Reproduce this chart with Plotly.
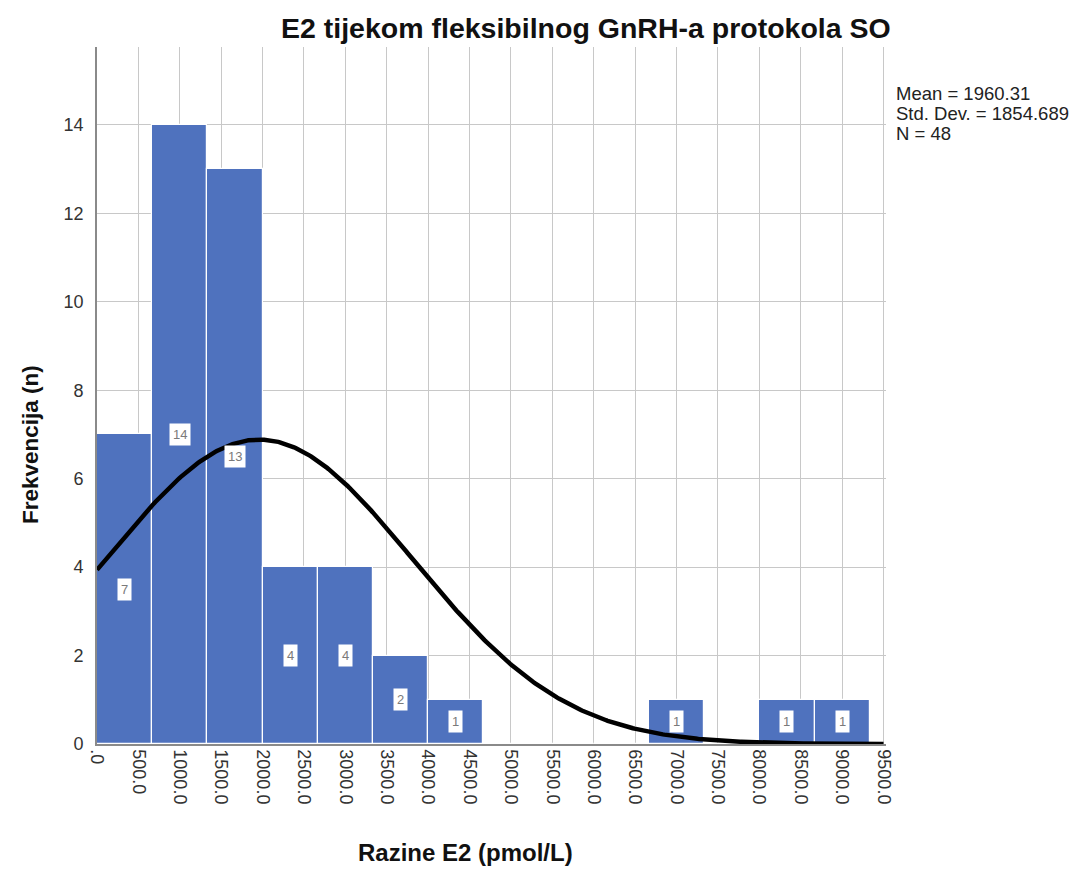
import numpy as np
import plotly.graph_objects as go

# ---- data ----
bin_width = 2000 / 3          # SPSS bin width (pmol/L)
bin_counts = [7, 14, 13, 4, 4, 2, 1, 0, 0, 0, 1, 0, 1, 1]
tick_vals = [i * 500 for i in range(20)]
tick_text = [".0"] + [f"{v:.1f}" for v in tick_vals[1:]]
y_ticks = [0, 2, 4, 6, 8, 10, 12, 14]
mean_val = 1960.31
sd_val = 1854.689
n_val = 48

title_text = "E2 tijekom fleksibilnog GnRH-a protokola SO"
x_title = "Razine E2 (pmol/L)"
y_title = "Frekvencija (n)"

# ---- derived ----
centers = [(i + 0.5) * bin_width for i in range(len(bin_counts))]
xs = np.linspace(0, 9500, 500)
curve = n_val * bin_width / (sd_val * np.sqrt(2 * np.pi)) * np.exp(-0.5 * ((xs - mean_val) / sd_val) ** 2)

BAR = "#4f72be"
FONT = "Arial, Liberation Sans, sans-serif"

fig = go.Figure()
fig.add_trace(go.Bar(
    x=centers, y=bin_counts, width=bin_width,
    marker=dict(color=BAR, line=dict(color="white", width=1.2)),
    hoverinfo="skip", showlegend=False,
))
fig.add_trace(go.Scatter(
    x=xs, y=curve, mode="lines",
    line=dict(color="black", width=4.5),
    hoverinfo="skip", showlegend=False,
))

annotations = []
for c, v in zip(centers, bin_counts):
    if v > 0:
        annotations.append(dict(
            x=c, y=v / 2, xref="x", yref="y", text=str(v), showarrow=False,
            font=dict(family=FONT, size=13, color="#7a7a7a"),
            bgcolor="white", borderpad=3,
        ))

# page offset (body margin) of the rendered html
OFF = 8
FIG_W, FIG_H = 1084 - OFF, 872 - OFF
# plot area in screen pixels: x 97..886, y 47..744
L, R, T, B = 97 - OFF, 886 - OFF, 47 - OFF, 744 - OFF
W, H = R - L, B - T

def px(xs_screen):
    return (xs_screen - OFF - L) / W

def py(ys_screen):
    return (B - (ys_screen - OFF)) / H

annotations.append(dict(
    x=px(586), y=py(28), xref="paper", yref="paper", text=f"<b>{title_text}</b>",
    showarrow=False, xanchor="center", yanchor="middle",
    font=dict(family=FONT, size=28.5, color="#111"),
))
annotations.append(dict(
    x=px(30), y=py(445), xref="paper", yref="paper", text=f"<b>{y_title}</b>",
    showarrow=False, xanchor="center", yanchor="middle", textangle=-90,
    font=dict(family=FONT, size=22.5, color="#111"),
))
annotations.append(dict(
    x=px(465), y=py(853), xref="paper", yref="paper", text=f"<b>{x_title}</b>",
    showarrow=False, xanchor="center", yanchor="middle",
    font=dict(family=FONT, size=24, color="#111"),
))
stats = [f"Mean = {mean_val:.2f}", f"Std. Dev. = {sd_val:.3f}", f"N = {n_val}"]
for i, s in enumerate(stats):
    annotations.append(dict(
        x=px(894), y=py(94 + 19.5 * i), xref="paper", yref="paper", text=s,
        showarrow=False, xanchor="left", yanchor="middle",
        font=dict(family=FONT, size=18.5, color="#222"),
    ))

fig.update_layout(
    width=FIG_W, height=FIG_H,
    margin=dict(l=L, r=FIG_W - R, t=T, b=FIG_H - B),
    paper_bgcolor="white", plot_bgcolor="white",
    bargap=0,
    annotations=annotations,
    font=dict(family=FONT, color="#333"),
    xaxis=dict(
        range=[0, 9530], tickmode="array", tickvals=tick_vals, ticktext=tick_text,
        tickangle=90, tickfont=dict(size=18, color="#333"),
        showgrid=True, gridcolor="#c8c8c8", gridwidth=1.3,
        showline=True, linecolor="#8a8a8a", linewidth=1.5,
        ticks="", zeroline=False, fixedrange=True, automargin=False,
    ),
    yaxis=dict(
        range=[0, 15.76], tickmode="array", tickvals=y_ticks,
        tickfont=dict(size=18, color="#333"),
        showgrid=True, gridcolor="#c8c8c8", gridwidth=1.3,
        showline=True, linecolor="#8a8a8a", linewidth=1.8,
        ticks="", ticklabelstandoff=8, zeroline=False, fixedrange=True, automargin=False,
    ),
)

fig.write_html("out.html")
